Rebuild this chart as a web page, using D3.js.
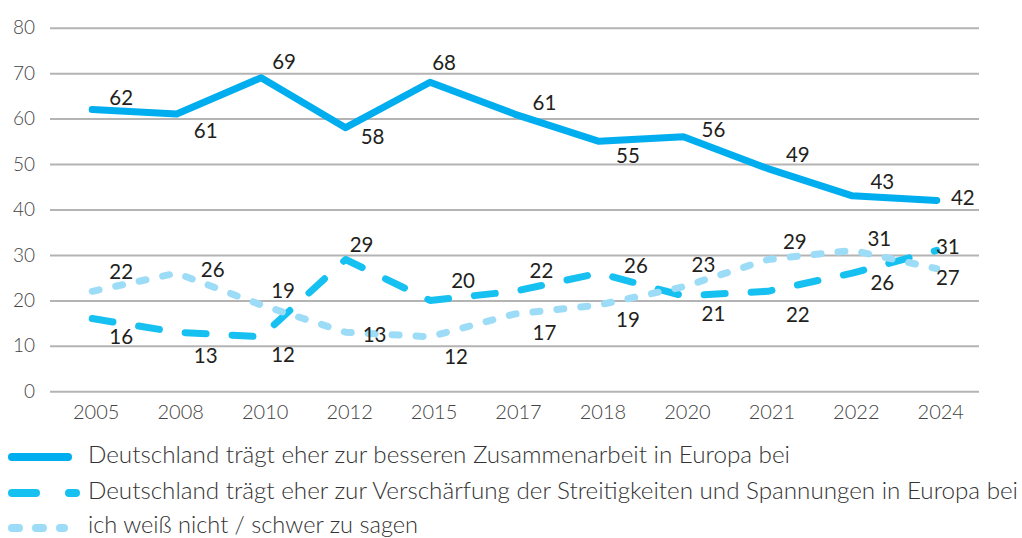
<!DOCTYPE html>
<html>
<head>
<meta charset="utf-8">
<script src="https://cdn.jsdelivr.net/npm/d3@7"></script>
<style>
  html, body { margin: 0; padding: 0; background: #fff; }
  svg { display: block; font-family: Lato, "Noto Sans", sans-serif; }
</style>
</head>
<body>
<svg id="chart" width="1022" height="538"></svg>
<script>
// ---- data ----
const years = ["2005","2008","2010","2012","2015","2017","2018","2020","2021","2022","2024"];
const better = [62,61,69,58,68,61,55,56,49,43,42];
const tension = [16,13,12,29,20,22,26,21,22,26,31];
const dontKnow = [22,26,19,13,12,17,19,23,29,31,27];
const yTicks = [0,10,20,30,40,50,60,70,80];
const seriesNames = [
  "Deutschland trägt eher zur besseren Zusammenarbeit in Europa bei",
  "Deutschland trägt eher zur Verschärfung der Streitigkeiten und Spannungen in Europa bei",
  "ich weiß nicht / schwer zu sagen"
];

// ---- label placement (layout only) ----
const betterLbl = [[29,-12],[29,17],[23,-16],[27,9],[14,-20],[30,-11],[29,14],[30,-7],[30,-14],[30,-14],[26,-3]];
const tensionLbl = [[29,18],[29,23],[22,18],[16,-15],[33,-20],[27,-21],[37,-8],[30,18],[30,23],[30,9],[11,-4]];
const dontKnowLbl = [[29,-20],[36,-4],[22,-14],[29,2],[26,20],[30,19],[29,15],[20,-22],[27,-18],[27,-12],[11,9]];

const svg = d3.select("#chart");
const x = d3.scaleBand().domain(years).range([50, 979]);
const y = d3.scaleLinear().domain([0, 80]).range([391.3, 27.7]);

// gridlines + y labels
const yAxis = svg.append("g").attr("transform", "translate(50,0)")
  .call(d3.axisLeft(y).tickValues(yTicks).tickSize(-929).tickPadding(15).tickFormat(d3.format("d")));
yAxis.select(".domain").remove();
yAxis.selectAll(".tick line").attr("stroke", "#b4b4b4").attr("stroke-width", 2);
yAxis.selectAll(".tick text").attr("fill", "#444").attr("font-size", 19).attr("font-family", "Lato").attr("font-weight", 300);

// x labels
const xAxis = svg.append("g").attr("transform", "translate(4,391.3)")
  .call(d3.axisBottom(x).tickSize(0).tickPadding(14));
xAxis.select(".domain").remove();
xAxis.selectAll(".tick text").attr("fill", "#444").attr("font-size", 20).attr("font-family", "Lato").attr("font-weight", 300);

const series = [
  { vals: better, lbl: betterLbl, color: "#00aeef", dash: null },
  { vals: tension, lbl: tensionLbl, color: "#16c0f1", dash: "21,26" },
  { vals: dontKnow, lbl: dontKnowLbl, color: "#9ddcf7", dash: "7,17" }
];
const line = d3.line().x((d, i) => x(years[i]) + x.bandwidth() / 2).y(d => y(d));

// draw order: tension, dontKnow, better
[1, 2, 0].forEach(k => {
  const s = series[k];
  svg.append("path")
    .datum(s.vals)
    .attr("d", line)
    .attr("fill", "none")
    .attr("stroke", s.color)
    .attr("stroke-width", 7)
    .attr("stroke-linecap", "round")
    .attr("stroke-linejoin", "round")
    .attr("stroke-dasharray", s.dash);
});

// data labels
series.forEach(s => {
  svg.append("g").selectAll("text")
    .data(s.vals)
    .join("text")
    .attr("x", (d, i) => x(years[i]) + x.bandwidth() / 2 + s.lbl[i][0])
    .attr("y", (d, i) => y(d) + s.lbl[i][1])
    .attr("dy", "0.36em")
    .attr("text-anchor", "middle")
    .attr("font-size", 20.5)
    .attr("font-family", "Lato")
    .attr("fill", "#231f20")
    .text(d => d);
});

// legend
const legendY = [457, 493, 528];
const legendBase = [463, 498.5, 533];
const legendWidth = [702, 930, 330];
const legendDash = [null, "24,33", "7,17"];
const legendLen = [56, 64, 52];
seriesNames.forEach((name, k) => {
  const g = svg.append("g");
  g.append("line")
    .attr("x1", 12).attr("x2", 12 + legendLen[k])
    .attr("y1", legendY[k]).attr("y2", legendY[k])
    .attr("stroke", series[k].color)
    .attr("stroke-width", 8)
    .attr("stroke-linecap", "round")
    .attr("stroke-dasharray", legendDash[k]);
  g.append("text")
    .attr("x", 88).attr("y", legendBase[k])
    .attr("font-size", 23.5)
    .attr("font-family", "Lato")
    .attr("font-weight", 300)
    .attr("fill", "#333")
    .attr("textLength", legendWidth[k])
    .attr("lengthAdjust", "spacingAndGlyphs")
    .text(name);
});
</script>
</body>
</html>
